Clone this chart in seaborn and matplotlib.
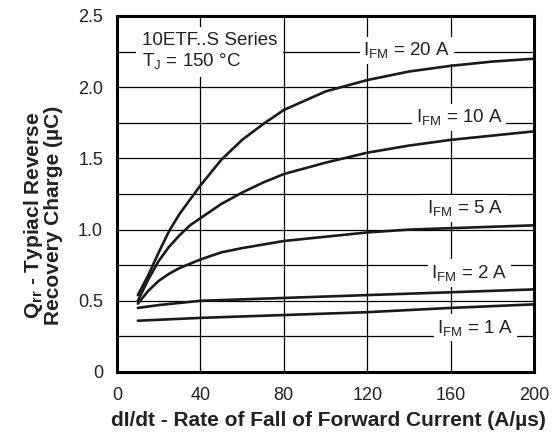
import numpy as np
import pandas as pd
import matplotlib
matplotlib.use("Agg")
import matplotlib.pyplot as plt
import seaborn as sns

# values (dI/dt in A/us, Qrr in uC)
x_20a = [10, 15, 20, 25, 30, 35, 40, 50, 60, 70, 80, 100, 120, 140, 160, 180, 200]
q_20a = [0.54, 0.68, 0.84, 0.99, 1.11, 1.21, 1.31, 1.49, 1.63, 1.74, 1.84, 1.97, 2.05, 2.11, 2.15, 2.18, 2.20]

x_10a = [10, 15, 20, 25, 30, 35, 40, 50, 60, 70, 80, 100, 120, 140, 160, 180, 200]
q_10a = [0.50, 0.65, 0.78, 0.88, 0.96, 1.03, 1.08, 1.18, 1.26, 1.33, 1.39, 1.47, 1.54, 1.59, 1.63, 1.66, 1.69]

x_5a = [10, 15, 20, 25, 30, 40, 50, 60, 80, 100, 120, 140, 160, 180, 200]
q_5a = [0.48, 0.57, 0.64, 0.69, 0.73, 0.79, 0.84, 0.87, 0.92, 0.95, 0.98, 1.00, 1.01, 1.02, 1.03]

x_2a = [10, 20, 40, 60, 80, 120, 160, 200]
q_2a = [0.45, 0.47, 0.50, 0.51, 0.52, 0.54, 0.56, 0.58]

x_1a = [10, 40, 80, 120, 160, 200]
q_1a = [0.36, 0.38, 0.40, 0.42, 0.45, 0.475]

series_names = ["20 A", "10 A", "5 A", "2 A", "1 A"]
x_ticks = [0, 40, 80, 120, 160, 200]
y_ticks = [0, 0.5, 1.0, 1.5, 2.0, 2.5]
y_tick_labels = ["0", "0.5", "1.0", "1.5", "2.0", "2.5"]

frames = []
for name, xs, qs in zip(series_names,
                        [x_20a, x_10a, x_5a, x_2a, x_1a],
                        [q_20a, q_10a, q_5a, q_2a, q_1a]):
    frames.append(pd.DataFrame({"didt": xs, "qrr": qs, "ifm": name}))
df = pd.concat(frames, ignore_index=True)

sns.set_style("white")
plt.rcParams["font.family"] = ["Liberation Sans", "DejaVu Sans"]
plt.rcParams["mathtext.fontset"] = "custom"
plt.rcParams["mathtext.rm"] = "Liberation Sans"
plt.rcParams["mathtext.it"] = "Liberation Sans:italic"
plt.rcParams["mathtext.bf"] = "Liberation Sans:bold"

fig, ax = plt.subplots(figsize=(5.57, 4.46), dpi=100)
fig.subplots_adjust(left=117 / 557, right=534 / 557, bottom=1 - 372 / 446, top=1 - 16 / 446)

sns.lineplot(data=df, x="didt", y="qrr", hue="ifm", units="ifm", estimator=None,
             palette=["#1a1a1a"] * 5, linewidth=1.9, legend=False, ax=ax)

ax.set_xlim(0, 200)
ax.set_ylim(0, 2.5)
ax.set_xticks(x_ticks)
ax.set_yticks(y_ticks)
ax.set_yticklabels(y_tick_labels)
ax.set_yticks(np.arange(0, 2.51, 0.25), minor=True)
ax.grid(True, which="both", color="black", linewidth=0.9)
ax.grid(False, which="minor", axis="x")
ax.set_axisbelow(True)
ax.tick_params(axis="both", which="both", length=0, labelsize=13, colors="#222222")
ax.tick_params(axis="x", pad=11)
ax.tick_params(axis="y", pad=10)

for sp in ax.spines.values():
    sp.set_visible(True)
    sp.set_linewidth(2.2)
    sp.set_color("black")

ax.set_xlabel("dI/dt - Rate of Fall of Forward Current (A/µs)", fontsize=15,
              fontweight="bold", color="#222222")
ax.xaxis.set_label_coords(0.508, -0.11)
ax.set_ylabel("$\\mathbf{Q}_{\\mathbf{rr}}$ - Typiacl Reverse\nRecovery Charge (µC)",
              fontsize=15, fontweight="bold", color="#222222", linespacing=0.95)
ax.yaxis.set_label_coords(-0.13, 0.441)

box = dict(facecolor="white", edgecolor="none", pad=2.5)
labels = [("20 A", 139, 2.26), ("10 A", 164, 1.79), ("5 A", 167, 1.15),
          ("2 A", 169, 0.695), ("1 A", 172, 0.31)]
for lab, lx, ly in labels:
    ax.text(lx, ly, "$\\mathregular{I_{FM}}$ = " + lab, ha="center", va="center",
            fontsize=13.5, color="#222222", bbox=box, zorder=3)

ax.text(12, 2.25, "10ETF..S Series\n$\\mathregular{T_J}$ = 150 °C", ha="left", va="center",
        fontsize=13.5, color="#222222", linespacing=1.15,
        bbox=dict(facecolor="white", edgecolor="none", pad=4), zorder=3)

fig.savefig("out.png", dpi=100)
